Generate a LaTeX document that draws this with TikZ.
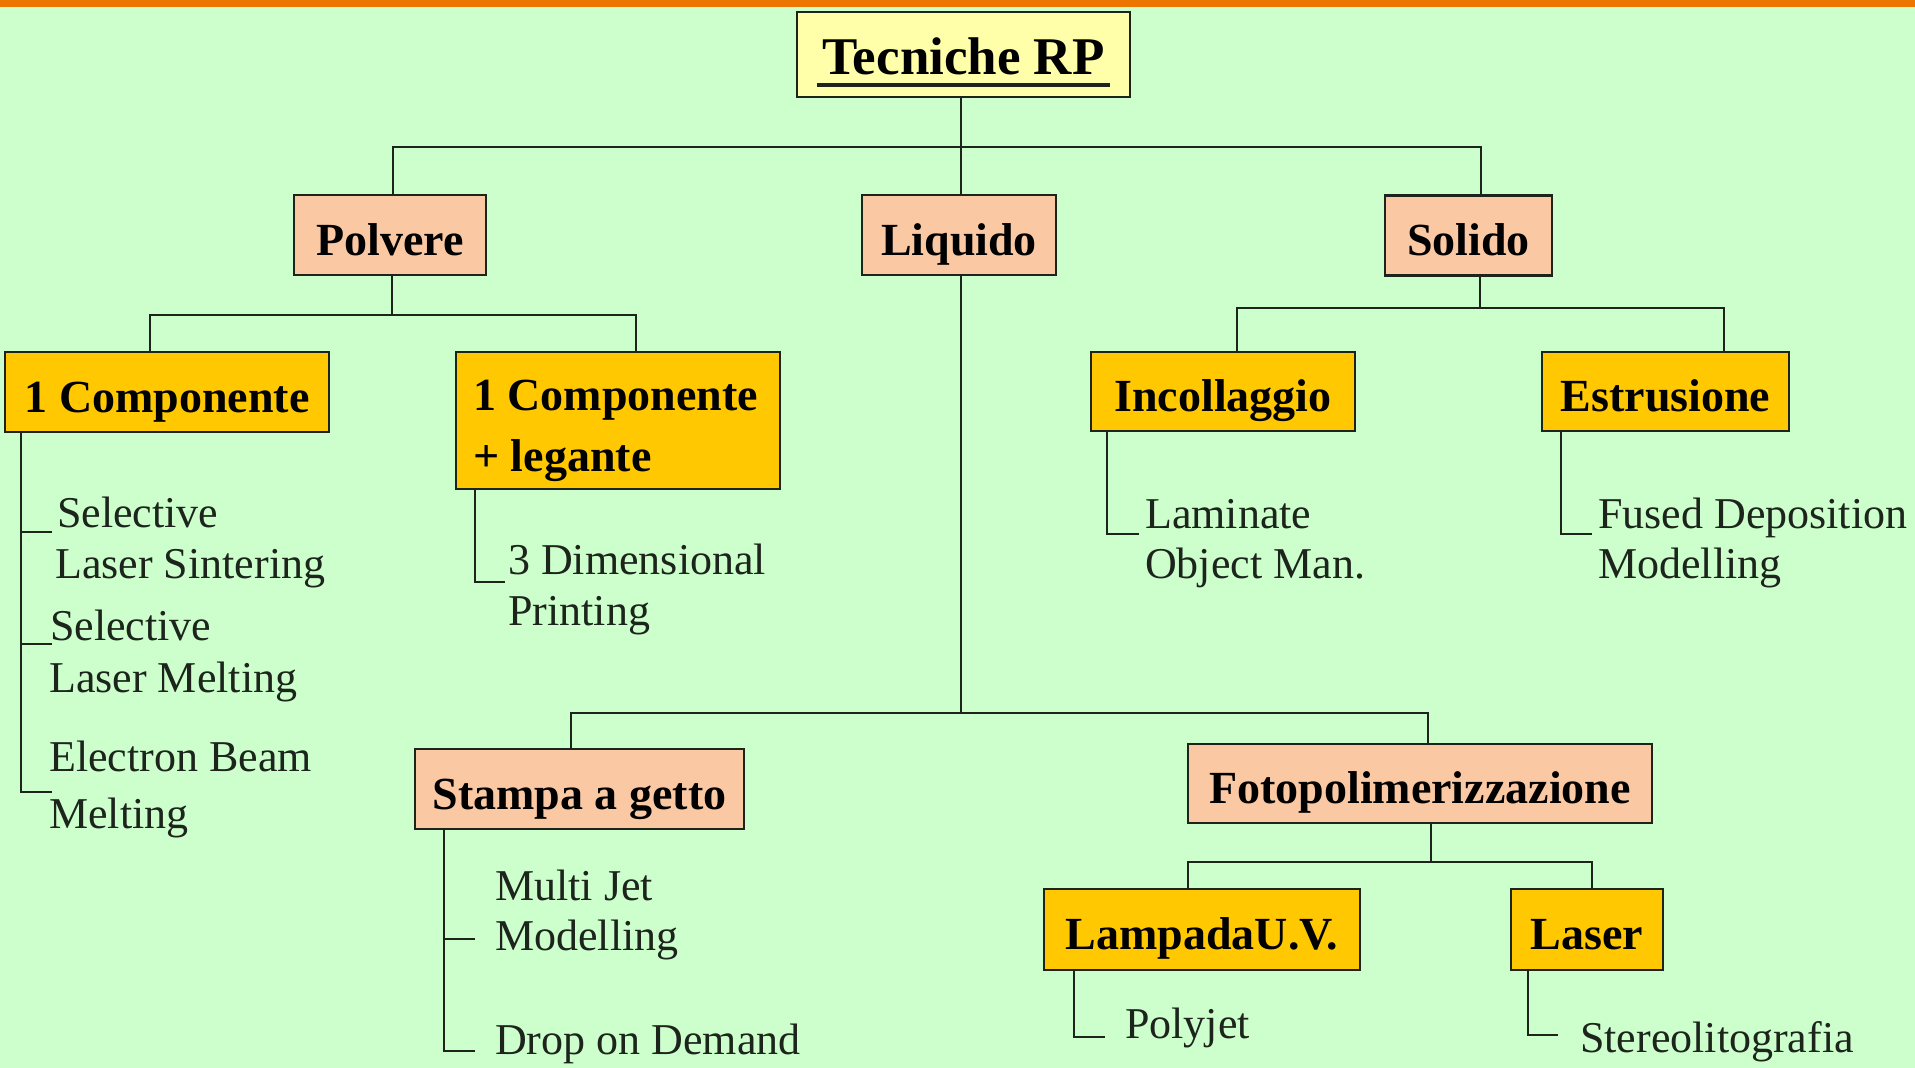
\documentclass[tikz,border=0pt]{standalone}
\usepackage{fontspec}
\setmainfont{Liberation Serif}
\definecolor{bg}{RGB}{204,255,204}
\definecolor{topbar}{RGB}{236,118,0}
\definecolor{ylw}{RGB}{255,255,170}
\definecolor{peach}{RGB}{250,200,162}
\definecolor{gold}{RGB}{255,200,0}
\definecolor{ink}{RGB}{28,36,28}
\begin{document}
\begin{tikzpicture}[x=1pt,y=-1pt,
  boxfont/.style={font=\fontsize{46}{50}\selectfont\bfseries, text=black},
  box/.style={draw=ink, line width=2.6pt, inner sep=0pt, text height=40pt, text depth=0pt, boxfont},
  cat/.style={box, fill=peach},
  sub/.style={box, fill=gold},
  leaf/.style={anchor=base west, inner sep=0pt, font=\fontsize{44}{48}\selectfont, text=ink},
  wire/.style={draw=ink, line width=2.6pt}]
\useasboundingbox (0,0) rectangle (1915,1068);
\fill[bg] (0,0) rectangle (1915,1068);
\fill[topbar] (0,0) rectangle (1915,7);

% boxes
\node[box, fill=ylw, minimum width=333pt, minimum height=85pt, font=\fontsize{53}{56}\selectfont\bfseries] (top) at (963.5,54.5) {Tecniche RP};
\draw[ink, line width=4pt] (817,85) -- (1110,85);

\node[cat, minimum width=192pt, minimum height=80pt] (polv) at (390,235) {Polvere};
\node[cat, minimum width=194pt, minimum height=80pt] (liq) at (959,235) {Liquido};
\node[cat, minimum width=167pt, minimum height=80pt] (sol) at (1468.5,235.5) {Solido};

\node[sub, minimum width=324pt, minimum height=80pt] (c1) at (167,392) {1 Componente};
\node[sub, minimum width=324pt, minimum height=137pt] (c2) at (618,420.5) {};
\node[anchor=base west, inner sep=0pt, boxfont] (c2a) at (473,410) {1 Componente};
\node[anchor=base west, inner sep=0pt, boxfont] (c2b) at (473,471) {+ legante};

\node[sub, minimum width=264pt, minimum height=79pt] (inc) at (1223,391.5) {Incollaggio};
\node[sub, minimum width=247pt, minimum height=79pt] (est) at (1665.5,391.5) {Estrusione};

\node[cat, minimum width=329pt, minimum height=80pt] (stam) at (579.5,789) {Stampa a getto};
\node[cat, minimum width=464pt, minimum height=79pt] (foto) at (1420,783.5) {Fotopolimerizzazione};
\node[sub, minimum width=316pt, minimum height=81pt] (uv) at (1202,929.5) {LampadaU.V.};
\node[sub, minimum width=152pt, minimum height=81pt] (las) at (1587,929.5) {Laser};

% tree connectors
\coordinate (j0) at (961,147);
\coordinate (jA) at (393,147);
\coordinate (jC) at (1481,147);
\draw[wire] (top.south -| j0) -- (j0);
\draw[wire] (jA |- polv.north) -- (jA) -- (jC) -- (jC |- sol.north);
\draw[wire] (j0) -- (j0 |- liq.north);

\coordinate (p0) at (392,315);
\coordinate (pL) at (150,315);
\coordinate (pR) at (636,315);
\draw[wire] (polv.south -| p0) -- (p0);
\draw[wire] (pL |- c1.north) -- (pL) -- (pR) -- (pR |- c2.north);

\coordinate (s0) at (1480,308);
\coordinate (sL) at (1237,308);
\coordinate (sR) at (1724,308);
\draw[wire] (sol.south -| s0) -- (s0);
\draw[wire] (sL |- inc.north) -- (sL) -- (sR) -- (sR |- est.north);

\coordinate (l0) at (961,713);
\coordinate (lL) at (571,713);
\coordinate (lR) at (1428,713);
\draw[wire] (liq.south -| l0) -- (l0);
\draw[wire] (lL |- stam.north) -- (lL) -- (lR) -- (lR |- foto.north);

\coordinate (f0) at (1431,862);
\coordinate (fL) at (1188,862);
\coordinate (fR) at (1592,862);
\draw[wire] (foto.south -| f0) -- (f0);
\draw[wire] (fL |- uv.north) -- (fL) -- (fR) -- (fR |- las.north);

% leaves: 1 Componente
\node[leaf] (sls1) at (57,527) {Selective};
\node[leaf] (sls2) at (55,578) {Laser Sintering};
\node[leaf] (slm1) at (50,640) {Selective};
\node[leaf] (slm2) at (49,692) {Laser Melting};
\node[leaf] (ebm1) at (49,771) {Electron Beam};
\node[leaf] (ebm2) at (49,828) {Melting};
\coordinate (t1) at (21,532);
\coordinate (t2) at (21,644);
\coordinate (t3) at (21,792);
\draw[wire] (c1.south -| t1) -- (t3) -- ++(31,0);
\draw[wire] (t1) -- ++(31,0);
\draw[wire] (t2) -- ++(31,0);

% 1 Componente + legante
\node[leaf] (dp1) at (508,574) {3 Dimensional};
\node[leaf] (dp2) at (508,625) {Printing};
\coordinate (t4) at (475,582);
\draw[wire] (c2.south -| t4) -- (t4) -- ++(30,0);

% Incollaggio
\node[leaf] (lom1) at (1145,528) {Laminate};
\node[leaf] (lom2) at (1145,578) {Object Man.};
\coordinate (t5) at (1107,534);
\draw[wire] (inc.south -| t5) -- (t5) -- ++(32,0);

% Estrusione
\node[leaf] (fdm1) at (1598,528) {Fused Deposition};
\node[leaf] (fdm2) at (1598,578) {Modelling};
\coordinate (t6) at (1561,534);
\draw[wire] (est.south -| t6) -- (t6) -- ++(31,0);

% Stampa a getto
\node[leaf] (mjm1) at (495,900) {Multi Jet};
\node[leaf] (mjm2) at (495,950) {Modelling};
\node[leaf] (dod) at (495,1054) {Drop on Demand};
\coordinate (t7) at (444,939);
\coordinate (t8) at (444,1051);
\draw[wire] (stam.south -| t7) -- (t8) -- ++(31,0);
\draw[wire] (t7) -- ++(31,0);

% Lampada UV
\node[leaf] (pj) at (1125,1038) {Polyjet};
\coordinate (t9) at (1074,1037);
\draw[wire] (uv.south -| t9) -- (t9) -- ++(31,0);

% Laser
\node[leaf] (sla) at (1580,1052) {Stereolitografia};
\coordinate (t10) at (1528,1035);
\draw[wire] (las.south -| t10) -- (t10) -- ++(30,0);
\end{tikzpicture}
\end{document}
